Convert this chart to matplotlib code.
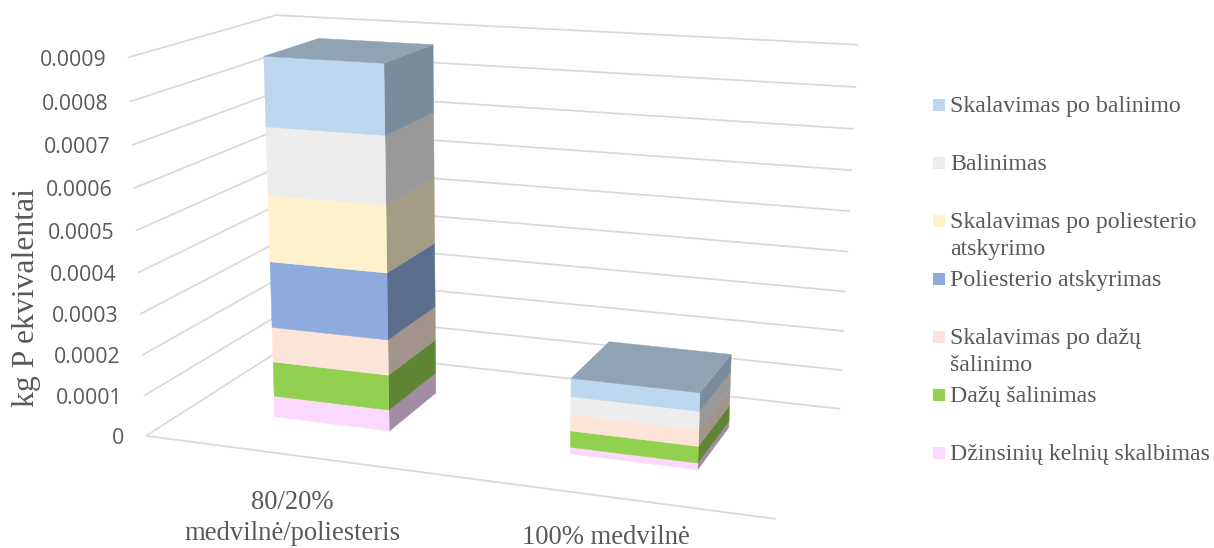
import numpy as np
import matplotlib
matplotlib.use("Agg")
import matplotlib.pyplot as plt
from matplotlib.patches import Polygon, Rectangle

# ---- data ----
categories = ["80/20%\nmedvilnė/poliesteris", "100% medvilnė"]
series_names = [
    "Džinsinių kelnių skalbimas",
    "Dažų šalinimas",
    "Skalavimas po dažų\nšalinimo",
    "Poliesterio atskyrimas",
    "Skalavimas po poliesterio\natskyrimo",
    "Balinimas",
    "Skalavimas po balinimo",
]
blend_values = [0.000053, 0.000087, 0.000087, 0.000163, 0.000162, 0.000164, 0.000166]
cotton_values = [0.000016, 0.000040, 0.000040, 0.0, 0.0, 0.000043, 0.000044]
tick_values = [0, 0.0001, 0.0002, 0.0003, 0.0004, 0.0005, 0.0006, 0.0007, 0.0008, 0.0009]
tick_labels = ["0", "0.0001", "0.0002", "0.0003", "0.0004", "0.0005", "0.0006", "0.0007", "0.0008", "0.0009"]
y_title = "kg P ekvivalentai"

# ---- style ----
colors = ["#FBD9FF", "#92D050", "#FCE5D8", "#8FAADC", "#FFF2CC", "#EDEDED", "#BDD7EE"]
SIDE_SHADE = 0.645
TOP_SHADE = 0.76
GRID = "#D9D9D9"
TEXT = "#595959"
SERIF = "Liberation Serif"
SANS = "Open Sans"
UNIT = 0.0001

# Perspective camera of the chart box: (category span, depth, value in units) -> canvas
CAMERA = np.array([
    [546.694895, 181.377595, -2.771169, 146.120302],
    [27.652576, -38.071646, -42.346946, 435.834168],
    [-0.106737, 0.147182, -0.005636, 1.0],
])


def project(x, depth, value):
    h = CAMERA @ np.array([x, depth, value / UNIT, 1.0])
    return h[:2] / h[2]


def grid_segment(ax, a, b):
    ax.plot([a[0], b[0]], [a[1], b[1]], color=GRID, lw=1.25, solid_capstyle="butt", zorder=1)


def shade(hex_color, factor):
    rgb = np.array(matplotlib.colors.to_rgb(hex_color))
    return tuple(rgb * factor)


def face(ax, corners, color, z):
    pts = [project(*c) for c in corners]
    ax.add_patch(Polygon(pts, closed=True, facecolor=color, edgecolor=color, lw=0.3, zorder=z))


def draw_column(ax, x0, x1, values, z):
    d0, d1 = 0.30, 0.70
    base = 0.0
    top_color = None
    for value, color in zip(values, colors):
        if value <= 0:
            continue
        top = base + value
        face(ax, [(x1, d0, base), (x1, d1, base), (x1, d1, top), (x1, d0, top)], shade(color, SIDE_SHADE), z)
        face(ax, [(x0, d0, base), (x1, d0, base), (x1, d0, top), (x0, d0, top)], color, z + 0.1)
        base = top
        top_color = color
    face(ax, [(x0, d0, base), (x1, d0, base), (x1, d1, base), (x0, d1, base)], shade(top_color, TOP_SHADE), z + 0.2)


fig = plt.figure(figsize=(12.14, 5.48), dpi=100)
ax = fig.add_axes([0, 0, 1, 1])
ax.set_xlim(0, 1214)
ax.set_ylim(548, 0)
ax.axis("off")

# Walls and floor
for v in tick_values:
    grid_segment(ax, project(0, 0, v), project(0, 1, v))
    grid_segment(ax, project(0, 1, v), project(1, 1, v))
grid_segment(ax, project(0, 0, 0), project(1, 0, 0))

# Stacked columns
draw_column(ax, 0.15, 0.35, blend_values, 3)
draw_column(ax, 0.65, 0.85, cotton_values, 4)

# Value axis labels sit just left of the wall lines
for v, lab in zip(tick_values, tick_labels):
    px, py = project(0, 0, v)
    ax.text(px - 21.5, py + 2.5, lab, ha="right", va="center", family=SANS, fontsize=15.3, color=TEXT)

ax.text(27, 298, y_title, rotation=90, ha="center", va="center", family=SERIF, fontsize=22.8, color=TEXT)

# Category labels
ax.text(292, 518, categories[0], ha="center", va="center", family=SERIF, fontsize=19.2,
        color=TEXT, linespacing=1.345)
ax.text(605.5, 537.5, categories[1], ha="center", va="center", family=SERIF, fontsize=19.2, color=TEXT)

# Legend, top entry first
legend_rows = [452.7, 395, 337, 279, 221, 162.7, 105]
for name, color, row in zip(series_names, colors, legend_rows):
    ax.add_patch(Rectangle((933.3, row - 6), 11.8, 12, facecolor=color, edgecolor="none"))
    ax.text(950, row - 9, name, ha="left", va="top", family=SERIF, fontsize=17.2,
            color=TEXT, linespacing=1.36)

fig.savefig("out.png", dpi=100, facecolor="white")
